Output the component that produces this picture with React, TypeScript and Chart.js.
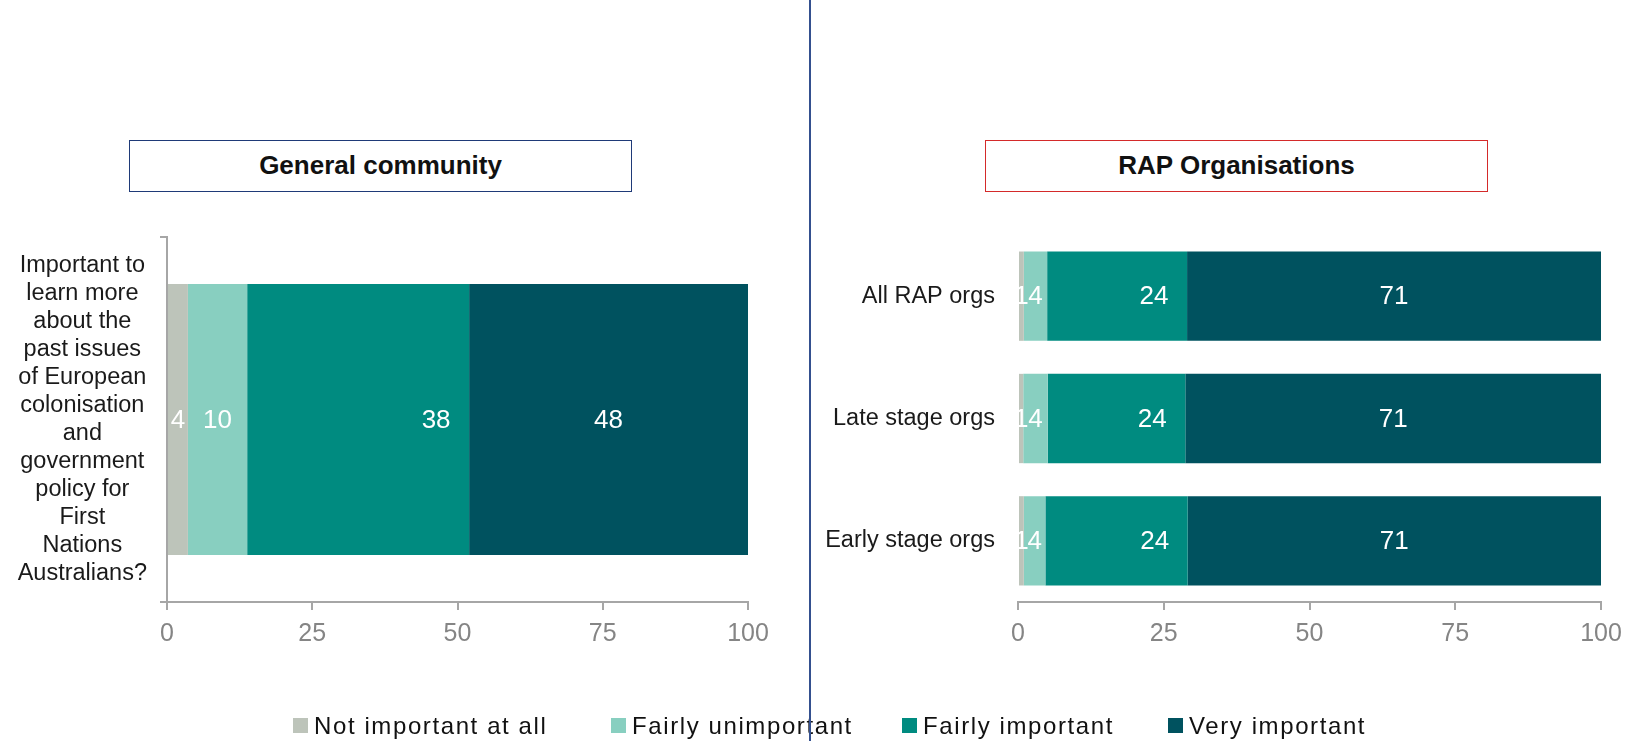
import React, { useEffect, useRef } from "react";
import { Chart, registerables } from "chart.js";

Chart.register(...registerables);

// ---------- DATA ----------
const SERIES_NAMES = ["Not important at all", "Fairly unimportant", "Fairly important", "Very important"];
const SERIES_COLORS = ["#bdc4ba", "#88cfc0", "#008b80", "#00525f"];

const GENERAL_CATEGORIES = [
  [
    "Important to",
    "learn more",
    "about the",
    "past issues",
    "of European",
    "colonisation",
    "and",
    "government",
    "policy for",
    "First",
    "Nations",
    "Australians?",
  ],
];
const GENERAL_NOT_IMPORTANT = [3.6];
const GENERAL_FAIRLY_UNIMPORTANT = [10.2];
const GENERAL_FAIRLY_IMPORTANT = [38.2];
const GENERAL_VERY_IMPORTANT = [48.0];

const RAP_CATEGORIES = ["All RAP orgs", "Late stage orgs", "Early stage orgs"];
const RAP_NOT_IMPORTANT = [1.0, 0.9, 1.0];
const RAP_FAIRLY_UNIMPORTANT = [4.0, 4.2, 3.7];
const RAP_FAIRLY_IMPORTANT = [24.0, 23.6, 24.4];
const RAP_VERY_IMPORTANT = [71.0, 71.3, 70.9];

const X_TICKS = [0, 25, 50, 75, 100];
const PANEL_TITLES = ["General community", "RAP Organisations"];

// label placement per series: centre of segment, or near segment end
const LABEL_ANCHORS = ["center", "center", "end", "center"];

const FONT = "'Liberation Sans', Arial, Helvetica, sans-serif";

const valueLabelPlugin = {
  id: "valueLabels",
  afterDatasetsDraw(chart: any) {
    const ctx = chart.ctx;
    ctx.save();
    ctx.font = `26px ${FONT}`;
    ctx.fillStyle = "#ffffff";
    ctx.textAlign = "center";
    ctx.textBaseline = "middle";
    chart.data.datasets.forEach((ds: any, di: number) => {
      const meta = chart.getDatasetMeta(di);
      meta.data.forEach((el: any, i: number) => {
        const v = ds.data[i];
        const p = el.getProps(["x", "y", "base"], true);
        let x = (p.x + p.base) / 2;
        if (LABEL_ANCHORS[di] === "end") x = p.x - 33;
        ctx.fillText(String(Math.round(v)), x, p.y + 1);
      });
    });
    ctx.restore();
  },
};

function makeDatasets(arrays: number[][]) {
  return arrays.map((arr, i) => ({
    label: SERIES_NAMES[i],
    data: arr,
    backgroundColor: SERIES_COLORS[i],
    borderWidth: 0,
  }));
}

function xScale() {
  return {
    type: "linear" as const,
    stacked: true,
    min: 0,
    max: 100,
    afterBuildTicks: (s: any) => {
      s.ticks = X_TICKS.map((v) => ({ value: v }));
    },
    afterFit: (s: any) => {
      s.height = 50;
    },
    border: { display: true, color: "#a6a6a6", width: 2 },
    grid: {
      display: true,
      drawOnChartArea: false,
      drawTicks: true,
      tickLength: 8,
      color: "#a6a6a6",
      lineWidth: 2,
    },
    ticks: {
      color: "#858585",
      font: { family: FONT, size: 25 },
      padding: 9,
      maxRotation: 0,
    },
  };
}

function GeneralChart() {
  const ref = useRef<HTMLCanvasElement>(null);
  useEffect(() => {
    if (!ref.current) return;
    const chart = new Chart(ref.current, {
      type: "bar",
      data: {
        labels: GENERAL_CATEGORIES as any,
        datasets: makeDatasets([
          GENERAL_NOT_IMPORTANT,
          GENERAL_FAIRLY_UNIMPORTANT,
          GENERAL_FAIRLY_IMPORTANT,
          GENERAL_VERY_IMPORTANT,
        ]),
      },
      options: {
        indexAxis: "y",
        responsive: false,
        animation: false,
        layout: { padding: { top: 237, right: 57, bottom: 89, left: 0 } },
        datasets: { bar: { barPercentage: 0.742, categoryPercentage: 1 } },
        plugins: { legend: { display: false }, tooltip: { enabled: false }, title: { display: false } },
        scales: {
          x: xScale(),
          y: {
            stacked: true,
            afterFit: (s: any) => {
              s.width = 167;
              s.paddingTop = 0;
              s.paddingBottom = 0;
            },
            border: { display: true, color: "#a6a6a6", width: 2 },
            grid: {
              display: true,
              drawOnChartArea: false,
              drawTicks: true,
              tickLength: 7,
              color: "#a6a6a6",
              lineWidth: 2,
            },
            ticks: {
              color: "#1a1a1a",
              font: { family: FONT, size: 23.5, lineHeight: 1.195 },
              crossAlign: "center",
              padding: 13,
            },
          },
        },
      },
      plugins: [valueLabelPlugin],
    } as any);
    return () => chart.destroy();
  }, []);
  return (
    <canvas
      ref={ref}
      width={805}
      height={741}
      style={{ position: "absolute", left: 0, top: 0, width: 805, height: 741 }}
    />
  );
}

function RapChart() {
  const ref = useRef<HTMLCanvasElement>(null);
  useEffect(() => {
    if (!ref.current) return;
    const chart = new Chart(ref.current, {
      type: "bar",
      data: {
        labels: RAP_CATEGORIES,
        datasets: makeDatasets([
          RAP_NOT_IMPORTANT,
          RAP_FAIRLY_UNIMPORTANT,
          RAP_FAIRLY_IMPORTANT,
          RAP_VERY_IMPORTANT,
        ]),
      },
      options: {
        indexAxis: "y",
        responsive: false,
        animation: false,
        layout: { padding: { top: 235, right: 42, bottom: 89, left: 0 } },
        datasets: { bar: { barPercentage: 0.73, categoryPercentage: 1 } },
        plugins: { legend: { display: false }, tooltip: { enabled: false }, title: { display: false } },
        scales: {
          x: xScale(),
          y: {
            stacked: true,
            afterFit: (s: any) => {
              s.width = 208;
              s.paddingTop = 0;
              s.paddingBottom = 0;
            },
            border: { display: false },
            grid: { display: false, drawTicks: false },
            ticks: {
              color: "#1a1a1a",
              font: { family: FONT, size: 23.5 },
              padding: 23,
            },
          },
        },
      },
      plugins: [valueLabelPlugin],
    } as any);
    return () => chart.destroy();
  }, []);
  return (
    <canvas
      ref={ref}
      width={833}
      height={741}
      style={{ position: "absolute", left: 810, top: 0, width: 833, height: 741 }}
    />
  );
}

const LEGEND_X = [293, 611, 902, 1168];

export default function App() {
  const boxStyle = (left: number, color: string): React.CSSProperties => ({
    position: "absolute",
    left,
    top: 139.5,
    width: 503,
    height: 52,
    boxSizing: "border-box",
    border: `1.5px solid ${color}`,
    display: "flex",
    alignItems: "center",
    justifyContent: "center",
    fontFamily: FONT,
    fontWeight: "bold",
    fontSize: 26,
    color: "#111111",
    background: "#ffffff",
  });
  return (
    <div
      style={{
        position: "absolute",
        left: 0,
        top: 0,
        width: 1643,
        height: 741,
        background: "#ffffff",
        overflow: "hidden",
      }}
    >
      <GeneralChart />
      <RapChart />
      <div style={boxStyle(129, "#1f3a78")}>{PANEL_TITLES[0]}</div>
      <div style={boxStyle(985, "#d42a2a")}>{PANEL_TITLES[1]}</div>
      {SERIES_NAMES.map((name, i) => (
        <div
          key={name}
          style={{
            position: "absolute",
            left: LEGEND_X[i],
            top: 712.5,
            height: 26,
            display: "flex",
            alignItems: "center",
            whiteSpace: "nowrap",
            fontFamily: FONT,
            fontSize: 24,
            lineHeight: "26px",
            letterSpacing: 1.6,
            color: "#111111",
          }}
        >
          <span
            style={{
              display: "inline-block",
              width: 15,
              height: 15,
              background: SERIES_COLORS[i],
              marginRight: 6,
            }}
          />
          <span>{name}</span>
        </div>
      ))}
      <div
        style={{
          position: "absolute",
          left: 808.5,
          top: 0,
          width: 2,
          height: 741,
          background: "#34508f",
        }}
      />
    </div>
  );
}
